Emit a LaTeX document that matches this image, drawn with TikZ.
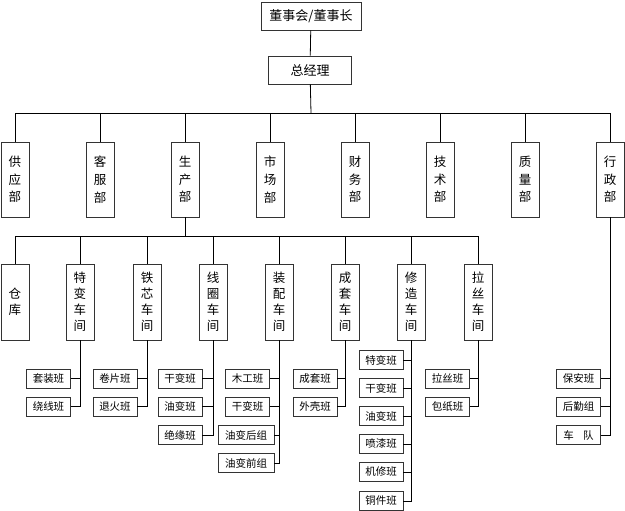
\documentclass[tikz,border=0pt]{standalone}
\usepackage{fontspec}
\newfontfamily\cjk{Noto Sans CJK SC}
\usetikzlibrary{positioning}

\begin{document}
\begin{tikzpicture}[x=1pt, y=-1pt,
    box/.style={draw=black!80, line width=0.9pt, fill=white, inner sep=0pt, font=\cjk},
    topbox/.style={box, minimum width=100, minimum height=28, font=\cjk\fontsize{13}{15}\selectfont},
    dept/.style={box, minimum width=28, minimum height=75, align=center, font=\cjk\fontsize{12.5}{17.7}\selectfont},
    shop/.style={box, minimum width=28, minimum height=76, align=center, font=\cjk\fontsize{12.5}{16.1}\selectfont},
    team/.style={box, minimum width=44, minimum height=19, font=\cjk\fontsize{10.5}{12}\selectfont},
    link/.style={line width=0.8pt, black}]
    \useasboundingbox (0,0) rectangle (625,511);

    % top
    \node[topbox] (boss) at (311,16) {董事会/董事长};
    \node[topbox, minimum width=83] (gm) at (310,70) {总经理};

    % departments
    \node[dept] (gongying) at (15,179.5) {供\\应\\部};
    \node[dept] (kefu) at (100,179.5) {客\\服\\部};
    \node[dept] (shengchan) at (185,179.5) {生\\产\\部};
    \node[dept] (shichang) at (270,179.5) {市\\场\\部};
    \node[dept] (caiwu) at (355,179.5) {财\\务\\部};
    \node[dept] (jishu) at (440,179.5) {技\\术\\部};
    \node[dept] (zhiliang) at (525,179.5) {质\\量\\部};
    \node[dept] (xingzheng) at (610,179.5) {行\\政\\部};

    % workshops
    \node[shop] (cangku) at (15,302) {仓\\库};
    \node[shop] (tebian) at (80,302) {特\\变\\车\\间};
    \node[shop] (tiexin) at (147,302) {铁\\芯\\车\\间};
    \node[shop] (xianquan) at (213,302) {线\\圈\\车\\间};
    \node[shop] (zhuangpei) at (279,302) {装\\配\\车\\间};
    \node[shop] (chengtao) at (345,302) {成\\套\\车\\间};
    \node[shop] (xiuzao) at (411,302) {修\\造\\车\\间};
    \node[shop] (lasi) at (478,302) {拉\\丝\\车\\间};

    % teams
    \node[team] (tebianA) at (48.5,378.5) {套装班};
    \node[team] (tebianB) at (48.5,406.5) {绕线班};
    \node[team] (tiexinA) at (115,378.5) {卷片班};
    \node[team] (tiexinB) at (115,406.5) {退火班};
    \node[team] (xianquanA) at (180,378.5) {干变班};
    \node[team] (xianquanB) at (180,406.5) {油变班};
    \node[team] (xianquanC) at (180,435) {绝缘班};
    \node[team] (zhuangpeiA) at (247.5,378.5) {木工班};
    \node[team] (zhuangpeiB) at (247.5,406.5) {干变班};
    \node[team, minimum width=56] (zhuangpeiC) at (246,435) {油变后组};
    \node[team, minimum width=56] (zhuangpeiD) at (246,463) {油变前组};
    \node[team] (chengtaoA) at (315,378.5) {成套班};
    \node[team] (chengtaoB) at (315,406.5) {外壳班};
    \node[team] (xiuzaoA) at (381,360) {特变班};
    \node[team] (xiuzaoB) at (381,388) {干变班};
    \node[team] (xiuzaoC) at (381,416) {油变班};
    \node[team] (xiuzaoD) at (381,444) {喷漆班};
    \node[team] (xiuzaoE) at (381,472) {机修班};
    \node[team] (xiuzaoF) at (381,501) {铜件班};
    \node[team] (lasiA) at (447.5,378.5) {拉丝班};
    \node[team] (lasiB) at (447.5,406.5) {包纸班};
    \node[team] (xingzhengA) at (578.5,378.5) {保安班};
    \node[team] (xingzhengB) at (578.5,406.5) {后勤组};
    \node[team] (xingzhengC) at (578.5,435) {车\hspace{0.9em}队};

    % connectors
    \coordinate (busdept) at (311,113);
    \coordinate (busshop) at (185,236);
    \draw[link] (boss) -- (gm);
    \draw[link] (gm) -- (busdept);
    \foreach \d in {gongying,kefu,shengchan,shichang,caiwu,jishu,zhiliang,xingzheng}
        \draw[link] (busdept) -| (\d.north);
    \draw[link] (shengchan) -- (busshop);
    \foreach \s in {cangku,tebian,tiexin,xianquan,zhuangpei,chengtao,xiuzao,lasi}
        \draw[link] (busshop) -| (\s.north);
    \foreach \t/\s in {tebianA/tebian,tebianB/tebian,tiexinA/tiexin,tiexinB/tiexin,
            xianquanA/xianquan,xianquanB/xianquan,xianquanC/xianquan,
            zhuangpeiA/zhuangpei,zhuangpeiB/zhuangpei,zhuangpeiC/zhuangpei,zhuangpeiD/zhuangpei,
            chengtaoA/chengtao,chengtaoB/chengtao,
            xiuzaoA/xiuzao,xiuzaoB/xiuzao,xiuzaoC/xiuzao,xiuzaoD/xiuzao,xiuzaoE/xiuzao,xiuzaoF/xiuzao,
            lasiA/lasi,lasiB/lasi,xingzhengA/xingzheng,xingzhengB/xingzheng,xingzhengC/xingzheng}
        \draw[link] (\t.east) -| (\s.south);
\end{tikzpicture}
\end{document}
